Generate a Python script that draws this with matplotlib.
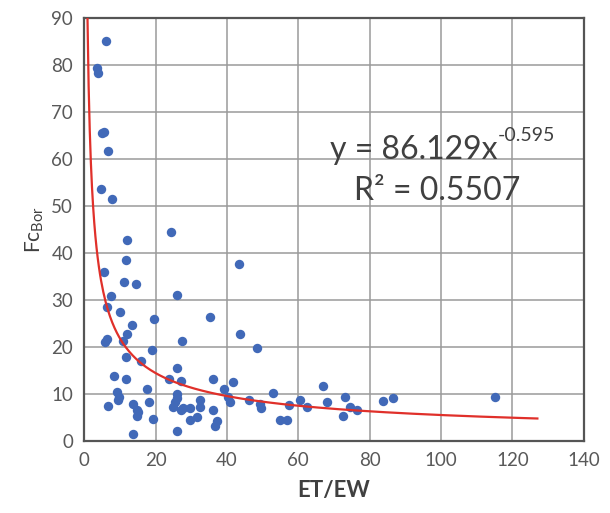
import numpy as np
import matplotlib
matplotlib.use('Agg')
from matplotlib import pyplot as plt

plt.rcParams['font.family'] = ['Lato', 'DejaVu Sans']

# scatter data (ET/EW vs Fc_Bor)
et_ew = [6.2, 3.6, 3.8, 5.0, 5.6, 6.7, 4.7, 7.8, 24.3, 12.1,
         11.7, 43.5, 5.6, 11.2, 14.5, 7.5, 26.0, 6.5, 10.1, 35.2,
         19.6, 13.5, 12.1, 43.8, 6.5, 5.9, 11.0, 27.5, 48.4, 19.1,
         11.7, 15.9, 26.1, 8.4, 11.7, 23.8, 27.1, 36.2, 41.6, 67.0,
         17.7, 39.3, 9.3, 52.8, 9.8, 26.0, 26.0, 40.4, 73.1, 115.1,
         86.6, 83.7, 60.5, 46.3, 32.5, 18.2, 40.9, 68.0, 13.8, 49.3,
         57.5, 6.7, 25.0, 32.5, 62.4, 74.5, 27.1, 29.7, 49.5, 14.9,
         36.0, 76.4, 14.9, 31.6, 72.6, 19.4, 29.7, 54.9, 56.8, 37.2,
         36.7, 26.0, 13.8, 9.6, 15.2, 27.8, 25.5]
fc_bor = [85.1, 79.3, 78.3, 65.5, 65.8, 61.8, 53.6, 51.5, 44.4, 42.8,
          38.6, 37.6, 36.0, 33.8, 33.4, 30.8, 31.1, 28.5, 27.4, 26.4,
          26.0, 24.8, 22.8, 22.8, 21.8, 21.0, 21.2, 21.2, 19.8, 19.4,
          17.8, 17.0, 15.5, 13.8, 13.3, 13.3, 12.8, 13.3, 12.6, 11.7,
          11.2, 11.0, 10.5, 10.3, 9.4, 10.1, 9.1, 9.4, 9.4, 9.3,
          9.1, 8.6, 8.7, 8.7, 8.7, 8.4, 8.4, 8.4, 8.0, 8.0,
          7.7, 7.4, 7.2, 7.3, 7.2, 7.2, 6.7, 7.0, 7.0, 6.6,
          6.6, 6.6, 5.3, 5.2, 5.3, 4.8, 4.5, 4.5, 4.5, 4.2,
          3.2, 2.2, 1.6, 8.7, 6.2, 7.0, 8.4]

# power trendline y = a * x^b
fit_a = 86.129
fit_b = -0.595
fit_range = [0.93, 127]
r2 = 0.5507

fig = plt.figure(figsize=(6.10, 5.13), dpi=100)
ax = fig.add_axes([0.138, 0.140, 0.819, 0.825])

ax.scatter(et_ew, fc_bor, s=46, color='#4169B8', zorder=3, linewidths=0)

xf = np.linspace(fit_range[0], fit_range[1], 400)
ax.plot(xf, fit_a * xf ** fit_b, color='#E0302A', lw=1.6, zorder=4)

ax.set_xlim(0, 140)
ax.set_ylim(0, 90)
ax.set_xticks(np.arange(0, 141, 20))
ax.set_yticks(np.arange(0, 91, 10))
ax.grid(True, color='#9A9A9A', lw=1.1)
ax.set_axisbelow(True)
for sp in ax.spines.values():
    sp.set_color('#555555')
    sp.set_linewidth(1.6)
ax.tick_params(length=0, pad=8, labelsize=13.5, labelcolor='#595959')

ax.set_xlabel('ET/EW', fontsize=16, fontweight='bold', color='#404040', labelpad=8)
ax.set_ylabel(r'Fc$_{\mathregular{Bor}}$', fontsize=15, color='#404040', labelpad=4)

# equation text, exponent drawn as a separate small text
ax.text(115.7, 61.9, 'y = %.3fx' % fit_a, fontsize=23, color='#404040',
        ha='right', va='center')
ax.text(115.9, 65.0, '-%.3f' % -fit_b, fontsize=14, color='#404040',
        ha='left', va='center')
ax.text(98.9, 53.2, 'R² = %.4f' % r2, fontsize=23, color='#404040',
        ha='center', va='center')

fig.savefig('out.png', dpi=100)
